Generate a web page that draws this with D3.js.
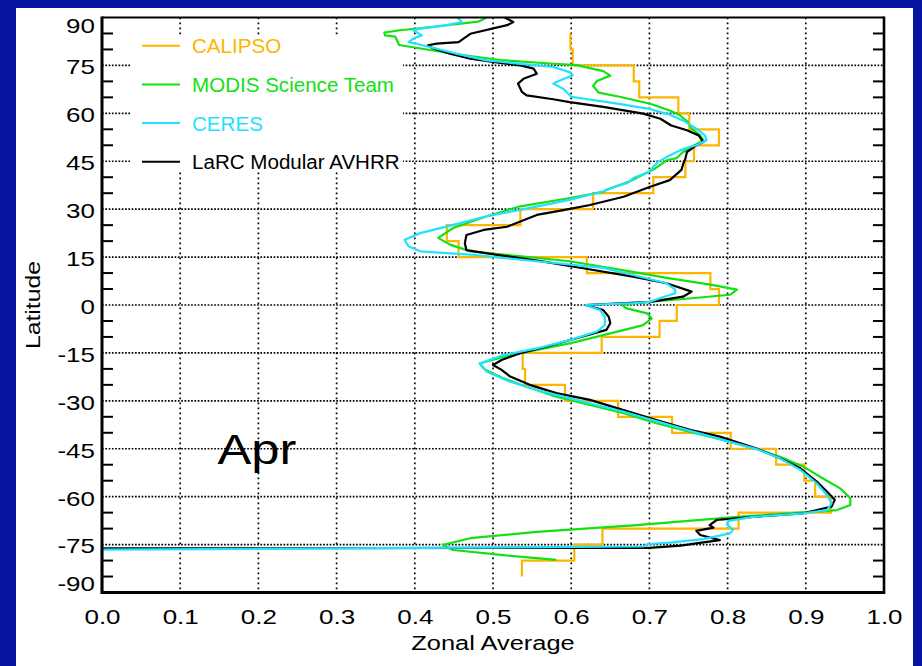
<!DOCTYPE html>
<html>
<head>
<meta charset="utf-8">
<script src="https://cdn.jsdelivr.net/npm/d3@7"></script>
<style>
  html, body { margin: 0; padding: 0; background: #0616a0; }
  svg { display: block; }
  text { font-family: "Liberation Sans", Arial, Helvetica, sans-serif; }
</style>
</head>
<body>
<svg id="chart" width="922" height="666"></svg>
<script>
// Zonal averages by latitude, April. Each continuous series is [latitude, zonal average].
const larc = [
  [90,0.515],[88.6,0.526],[87.6,0.518],[84.9,0.471],[82.3,0.456],[81.8,0.428],[81.3,0.417],[80.5,0.422],
  [78.7,0.445],[77.1,0.471],[76.1,0.500],[75.0,0.535],[74.0,0.552],[72.4,0.556],[70.8,0.539],[69.3,0.532],
  [66.7,0.537],[65.6,0.543],[64.4,0.577],[63.5,0.598],[62.0,0.641],[59.9,0.692],[58.3,0.714],[56.2,0.728],
  [54.7,0.748],[53.1,0.763],[51.0,0.769],[50.0,0.760],[47.9,0.748],[45.8,0.746],[44.0,0.743],[42.3,0.741],
  [39.1,0.726],[37.0,0.701],[33.9,0.667],[31.3,0.624],[29.7,0.590],[28.2,0.556],[24.5,0.518],[23.5,0.488],
  [21.9,0.466],[19.3,0.464],[17.2,0.466],[15.7,0.505],[13.6,0.565],[11.5,0.615],[8.9,0.679],[6.8,0.722],
  [4.2,0.754],[2.6,0.743],[1.0,0.701],[0.0,0.618],[-1.6,0.641],[-3.7,0.648],[-5.7,0.650],[-7.8,0.645],
  [-10.4,0.607],[-13.0,0.569],[-15.1,0.535],[-17.2,0.511],[-18.8,0.500],[-20.3,0.511],[-22.4,0.522],
  [-25.0,0.547],[-27.6,0.581],[-29.7,0.624],[-32.9,0.667],[-36.0,0.709],[-39.1,0.752],[-41.2,0.790],
  [-44.9,0.837],[-48.0,0.867],[-51.1,0.893],[-55.3,0.914],[-58.4,0.927],[-61.0,0.937],[-63.1,0.933],
  [-65.2,0.897],[-66.3,0.833],[-67.3,0.786],[-68.9,0.777],[-69.7,0.782],[-70.7,0.760],[-72.0,0.765],
  [-73.6,0.790],[-74.6,0.760],[-75.3,0.740],[-76.0,0.700],[-76.2,0.0],[-90,0.0]
];

const modis = [
  [90,0.492],[88.7,0.481],[87.1,0.424],[86.0,0.381],[85.3,0.361],[84.4,0.362],[84.0,0.375],[81.4,0.380],
  [78.8,0.445],[76.7,0.509],[75.6,0.573],[75.1,0.607],[73.2,0.641],[71.8,0.650],[70.1,0.633],[68.6,0.628],
  [66.5,0.635],[65.2,0.662],[63.0,0.701],[60.9,0.726],[59.4,0.739],[57.3,0.749],[55.2,0.754],[53.1,0.765],
  [51.6,0.769],[50.0,0.758],[47.9,0.743],[46.0,0.735],[45.3,0.722],[43.9,0.714],[42.4,0.705],[38.7,0.675],
  [36.1,0.645],[35.4,0.641],[33.5,0.599],[30.9,0.535],[27.8,0.492],[24.1,0.449],[21.0,0.430],[18.9,0.445],
  [16.8,0.471],[15.8,0.513],[13.7,0.598],[10.5,0.675],[8.5,0.722],[6.4,0.778],[4.8,0.812],[3.2,0.803],
  [1.8,0.740],[0.8,0.690],[0.0,0.665],[-1.0,0.670],[-2.6,0.697],[-4.2,0.703],[-6.3,0.692],[-8.9,0.650],
  [-12.0,0.598],[-14.1,0.556],[-15.7,0.522],[-18.3,0.483],[-20.3,0.490],[-22.9,0.513],[-25.6,0.543],
  [-28.7,0.581],[-31.3,0.624],[-33.9,0.667],[-37.0,0.709],[-39.7,0.752],[-42.3,0.795],[-45.1,0.837],
  [-47.5,0.867],[-50.6,0.897],[-54.3,0.922],[-57.4,0.944],[-60.5,0.957],[-62.6,0.957],[-64.2,0.940],
  [-66.3,0.812],[-68.9,0.684],[-71.0,0.556],[-73.0,0.471],[-75.1,0.436],[-76.7,0.449],[-78.3,0.513],
  [-79.8,0.581]
];

const ceres = [
  [90,0.455],[88.6,0.460],[87.6,0.441],[86.5,0.407],[86.0,0.398],[84.4,0.409],[83.4,0.398],[82.3,0.392],
  [81.8,0.402],[80.2,0.428],[78.7,0.453],[76.6,0.492],[75.5,0.535],[74.5,0.577],[72.9,0.598],[71.9,0.602],
  [69.8,0.581],[69.3,0.577],[67.7,0.590],[65.2,0.600],[63.1,0.657],[61.5,0.698],[59.5,0.727],[57.5,0.745],
  [55.2,0.760],[53.1,0.771],[51.6,0.773],[50.0,0.760],[49.5,0.752],[48.4,0.739],[46.3,0.722],[44.8,0.711],
  [43.3,0.705],[41.8,0.701],[39.8,0.680],[38.2,0.672],[37.2,0.658],[35.6,0.641],[33.0,0.599],[29.8,0.535],
  [27.8,0.492],[25.1,0.449],[22.5,0.407],[20.4,0.387],[18.4,0.392],[16.8,0.407],[15.8,0.471],[13.7,0.556],
  [11.6,0.641],[9.4,0.679],[6.8,0.722],[4.8,0.733],[3.7,0.733],[2.2,0.714],[1.0,0.701],[0.6,0.680],
  [0.0,0.618],[-1.6,0.637],[-3.7,0.643],[-6.3,0.643],[-8.3,0.633],[-11.0,0.598],[-13.6,0.556],[-15.7,0.513],
  [-18.3,0.483],[-20.9,0.492],[-24.0,0.522],[-26.6,0.556],[-28.7,0.590],[-33.4,0.667],[-39.4,0.752],
  [-45.1,0.837],[-48.0,0.867],[-51.6,0.893],[-55.8,0.914],[-59.5,0.927],[-62.1,0.933],[-64.2,0.927],
  [-65.2,0.897],[-66.3,0.833],[-67.6,0.801],[-68.6,0.799],[-70.4,0.807],[-71.5,0.803],[-73.3,0.769],
  [-74.4,0.726],[-74.9,0.697],[-75.6,0.692],[-76.6,0.0],[-90,0.0]
];

// CALIPSO is binned in 5-degree latitude bands (upper edge of each band).
const calipsoBinTop = [85,80,75,70,65,60,55,50,45,40,35,30,25,20,15,10,5,0,
                       -5,-10,-15,-20,-25,-30,-35,-40,-45,-50,-55,-60,-65,-70,-75,-80];
const calipsoZonal  = [0.599,0.602,0.680,0.687,0.737,0.751,0.789,0.757,0.746,0.705,0.628,0.535,0.441,0.456,
                       0.620,0.778,0.789,0.735,0.713,0.639,0.538,0.541,0.592,0.660,0.729,0.804,0.862,0.898,
                       0.912,0.932,0.814,0.640,0.604,0.537];
const calipsoBinWidth = 5;

const seriesNames  = ["CALIPSO", "MODIS Science Team", "CERES", "LaRC Modular AVHRR"];
const seriesColors = ["#ffb400", "#14e014", "#1ee2ff", "#000000"];

const xTicks = [0, 0.1, 0.2, 0.3, 0.4, 0.5, 0.6, 0.7, 0.8, 0.9, 1.0];
const latTicks = [90, 75, 60, 45, 30, 15, 0, -15, -30, -45, -60, -75, -90];
const latMinor = d3.range(-85, 90, 5).filter(d => d % 15 !== 0);

const monthLabel = "Apr";
const xTitle = "Zonal Average";
const yTitle = "Latitude";

// ---------------------------------------------------------------------------
const W = 922, H = 666;
const svg = d3.select("#chart");

svg.append("rect").attr("width", W).attr("height", H).attr("fill", "#0616a0");
svg.append("rect").attr("x", 16).attr("y", 8).attr("width", 897).attr("height", H - 8).attr("fill", "#ffffff");

const x = d3.scaleLinear().domain([0, 1]).range([102, 884]);
const y = d3.scaleLinear().domain([-90, 90]).range([592.5, 17.5]);
const [x0, x1] = x.range();
const [yB, yT] = y.range();

// dotted grid
const grid = svg.append("g").attr("stroke", "#000").attr("stroke-width", 1.7).attr("fill", "none");
grid.selectAll("line.v").data(xTicks.filter(d => d > 0 && d < 1)).join("line")
  .attr("class", "v")
  .attr("x1", d => x(d)).attr("x2", d => x(d))
  .attr("y1", yT).attr("y2", yB)
  .attr("stroke-dasharray", "1.7,3.3");
grid.selectAll("line.h").data(latTicks.filter(d => Math.abs(d) < 90)).join("line")
  .attr("class", "h")
  .attr("x1", x0).attr("x2", x1)
  .attr("y1", d => y(d)).attr("y2", d => y(d))
  .attr("stroke-dasharray", "1.7,1.6");

// legend backing
svg.append("rect").attr("x", 131).attr("y", 35).attr("width", 272).attr("height", 135).attr("fill", "#fff");

// series
const line = d3.line().x(d => x(d[1])).y(d => y(d[0]));
const calipsoPts = [];
calipsoBinTop.forEach((top, i) => {
  calipsoPts.push([top, calipsoZonal[i]]);
  calipsoPts.push([top - calipsoBinWidth, calipsoZonal[i]]);
});

const plotG = svg.append("g").attr("fill", "none").attr("stroke-width", 2.2).attr("stroke-linejoin", "round");
plotG.append("path").datum(calipsoPts).attr("d", line).attr("stroke", seriesColors[0]).attr("stroke-linejoin", "miter");
plotG.append("path").datum(modis).attr("d", line).attr("stroke", seriesColors[1]);
plotG.append("path").datum(larc).attr("d", line).attr("stroke", seriesColors[3]);
plotG.append("path").datum(ceres).attr("d", line).attr("stroke", seriesColors[2]);

// minor ticks on left and right axes
const ticks = svg.append("g").attr("stroke", "#000").attr("stroke-width", 2);
ticks.selectAll("line.l").data(latMinor).join("line")
  .attr("x1", x0).attr("x2", x0 + 11).attr("y1", d => y(d)).attr("y2", d => y(d));
ticks.selectAll("line.r").data(latMinor).join("line")
  .attr("x1", x1).attr("x2", x1 - 11).attr("y1", d => y(d)).attr("y2", d => y(d));

// frame
const frame = svg.append("g").attr("stroke", "#000").attr("fill", "none");
frame.append("line").attr("x1", x0).attr("x2", x1).attr("y1", yT).attr("y2", yT).attr("stroke-width", 2.2);
frame.append("line").attr("x1", x0).attr("x2", x1).attr("y1", yB).attr("y2", yB).attr("stroke-width", 3);
frame.append("line").attr("x1", x0).attr("x2", x0).attr("y1", yT - 1).attr("y2", yB + 1.5).attr("stroke-width", 3);
frame.append("line").attr("x1", x1).attr("x2", x1).attr("y1", yT - 1).attr("y2", yB + 1.5).attr("stroke-width", 2.6);

// axis labels via d3 axes
const yAxisG = svg.append("g").attr("transform", "translate(95,0)")
  .call(d3.axisLeft(y).tickValues(latTicks).tickSize(0).tickPadding(0).tickFormat(d => String(d)));
yAxisG.select(".domain").remove();
yAxisG.selectAll("text")
  .attr("x", 0)
  .attr("dy", d => d === 90 ? "0.75em" : d === -90 ? "-0.08em" : "0.42em")
  .attr("font-size", 20)
  .attr("fill", "#000")
  .attr("transform", "scale(1.3,1)");

const xAxisG = svg.append("g").attr("transform", `translate(0,${yB})`)
  .call(d3.axisBottom(x).tickValues(xTicks).tickSize(0).tickFormat(d3.format(".1f")));
xAxisG.select(".domain").remove();
xAxisG.selectAll("text")
  .attr("y", 32).attr("dy", 0)
  .attr("font-size", 20)
  .attr("fill", "#000")
  .attr("transform", "scale(1.3,1)");
svg.selectAll(".tick text").attr("font-family", "Liberation Sans, Arial, sans-serif");

svg.append("text")
  .attr("transform", `translate(${(x0 + x1) / 2},650) scale(1.27,1)`)
  .attr("text-anchor", "middle").attr("font-size", 20).text(xTitle);
svg.append("text")
  .attr("transform", `translate(40,${y(0)}) rotate(-90) scale(1.24,1)`)
  .attr("text-anchor", "middle").attr("font-size", 20).text(yTitle);

// month label
svg.append("text")
  .attr("transform", "translate(257,464) scale(1.18,1)")
  .attr("text-anchor", "middle").attr("font-size", 43).text(monthLabel);

// legend
const legendY = [45.7, 84.4, 123, 161.7];
const legend = svg.append("g");
seriesNames.forEach((name, i) => {
  legend.append("line")
    .attr("x1", 142).attr("x2", 180).attr("y1", legendY[i]).attr("y2", legendY[i])
    .attr("stroke", seriesColors[i]).attr("stroke-width", 2);
  legend.append("text")
    .attr("transform", `translate(192,${legendY[i]}) scale(0.98,1)`)
    .attr("dy", "0.36em").attr("font-size", 21).attr("fill", seriesColors[i]).text(name);
});
</script>
</body>
</html>
